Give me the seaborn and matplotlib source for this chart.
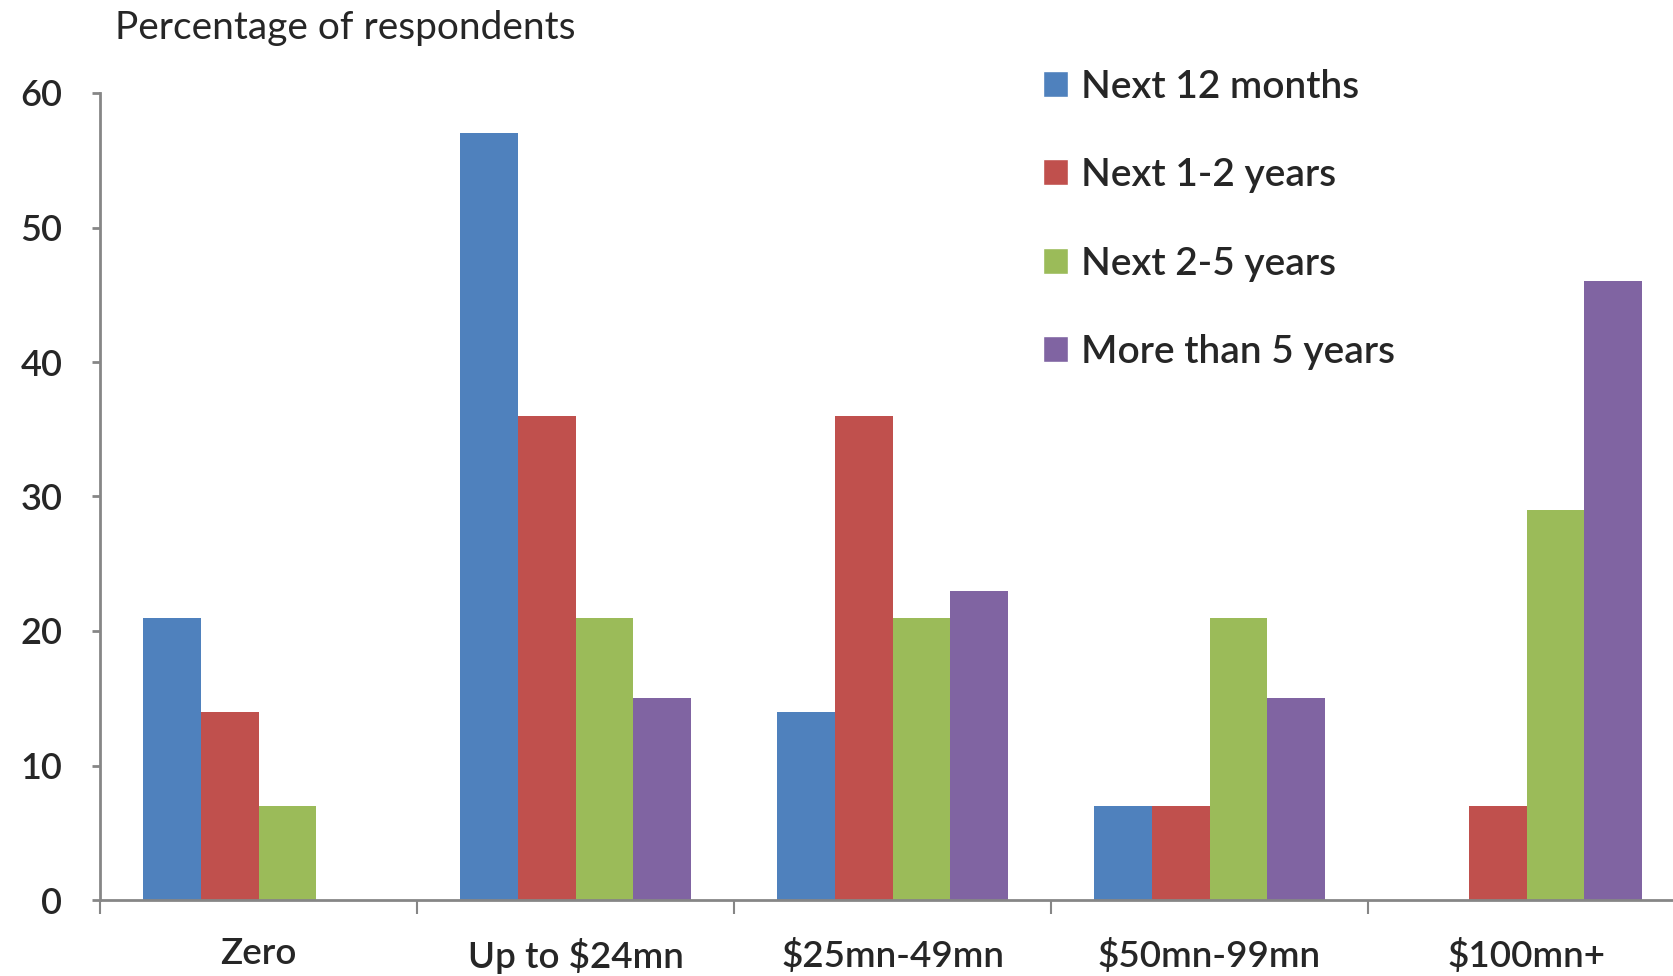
import numpy as np
import pandas as pd
import matplotlib
matplotlib.use("Agg")
import matplotlib.pyplot as plt
import seaborn as sns
from matplotlib.patches import Patch

# data
categories = ["Zero", "Up to $24mn", "$25mn-49mn", "$50mn-99mn", "$100mn+"]
series = ["Next 12 months", "Next 1-2 years", "Next 2-5 years", "More than 5 years"]
next_12_months = [21, 57, 14, 7, np.nan]
next_1_2_years = [14, 36, 36, 7, 7]
next_2_5_years = [7, 21, 21, 21, 29]
more_than_5_years = [np.nan, 15, 23, 15, 46]
colors = ["#4F81BD", "#C0504D", "#9BBB59", "#8064A2"]

df = pd.DataFrame({
    "Category": categories * 4,
    "Series": [s for s in series for _ in categories],
    "Value": next_12_months + next_1_2_years + next_2_5_years + more_than_5_years,
})

sns.set_style("white")
plt.rcParams["font.family"] = ["Lato", "DejaVu Sans"]

fig = plt.figure(figsize=(16.73, 9.76), dpi=100)
ax = fig.add_axes([100 / 1673, 1 - 900 / 976, 1585 / 1673, 807 / 976])

sns.barplot(data=df, x="Category", y="Value", hue="Series", order=categories,
            hue_order=series, palette=colors, width=0.73, saturation=1,
            linewidth=0, ax=ax, legend=False)

ax.set_xlim(-0.5, 4.5)
ax.set_ylim(0, 60)
ax.set_yticks(range(0, 61, 10))
ax.set_xlabel("")
ax.set_ylabel("")

for side in ["top", "right"]:
    ax.spines[side].set_visible(False)
for side in ["left", "bottom"]:
    ax.spines[side].set_color("#868686")
    ax.spines[side].set_linewidth(2)

ax.tick_params(axis="y", length=6, width=2, color="#868686", pad=21,
               labelsize=26, left=True)
ax.tick_params(axis="x", which="major", length=0, pad=27, labelsize=26.5)
ax.set_xticks(np.arange(-0.5, 5, 1), minor=True)
ax.tick_params(axis="x", which="minor", length=10, width=1.5, color="#868686",
               bottom=True)
for lbl in ax.get_xticklabels() + ax.get_yticklabels():
    lbl.set_fontweight("semibold")

fig.text(115 / 1673, 1 - 28 / 976, "Percentage of respondents", fontsize=28,
         va="center", ha="left")

handles = [Patch(facecolor=c, label=s) for c, s in zip(colors, series)]
leg = fig.legend(handles=handles, loc="upper left",
                 bbox_to_anchor=(1027 / 1673, 1 - 53 / 976), frameon=False,
                 fontsize=28, handlelength=0.65, handleheight=0.65,
                 handletextpad=0.35, labelspacing=1.35, borderaxespad=0)
for t in leg.get_texts():
    t.set_fontweight("semibold")

fig.savefig("out.png", dpi=100)
